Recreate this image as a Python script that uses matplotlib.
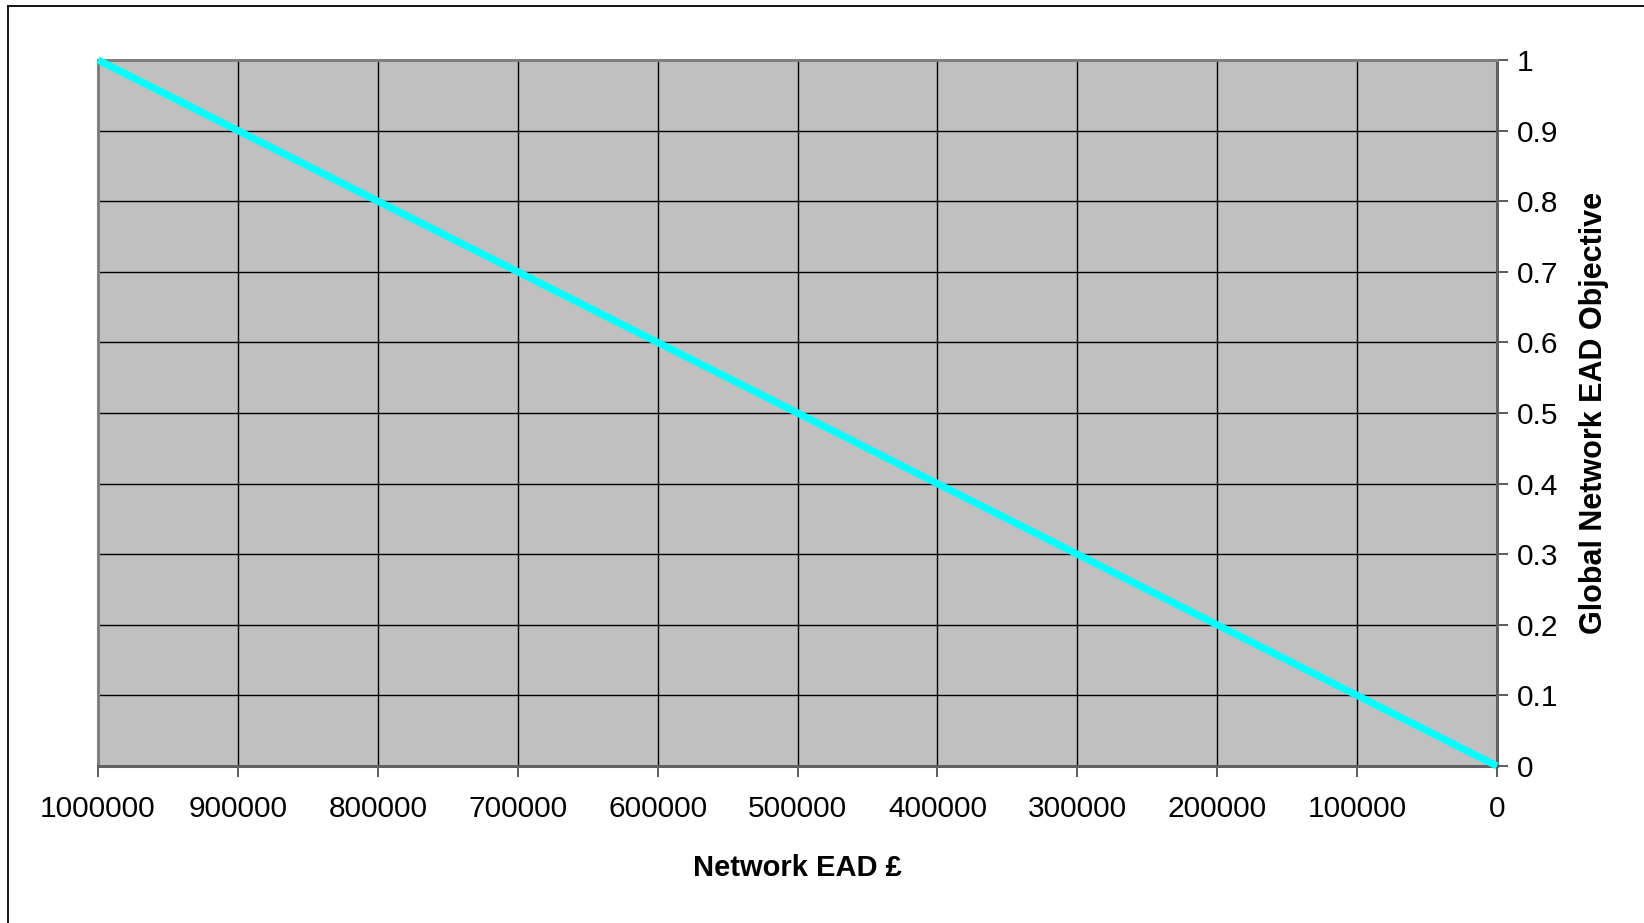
import matplotlib
matplotlib.use("Agg")
import matplotlib.pyplot as plt
from matplotlib.lines import Line2D

plt.rcParams['font.family'] = ['Liberation Sans', 'DejaVu Sans']

network_ead = [1000000, 0]
objective = [1.0, 0.0]
x_ticks = [1000000, 900000, 800000, 700000, 600000, 500000, 400000, 300000, 200000, 100000, 0]
y_ticks = [0, 0.1, 0.2, 0.3, 0.4, 0.5, 0.6, 0.7, 0.8, 0.9, 1]
y_tick_labels = ['0', '0.1', '0.2', '0.3', '0.4', '0.5', '0.6', '0.7', '0.8', '0.9', '1']

W, H = 1644, 923
fig = plt.figure(figsize=(W / 100, H / 100), dpi=100)
fig.patch.set_facecolor('white')

left, right, top, bottom = 98, 1497, 60, 766
ax = fig.add_axes([left / W, 1 - bottom / H, (right - left) / W, (bottom - top) / H])
ax.set_facecolor('#C0C0C0')

ax.plot(network_ead, objective, color='#00FFFF', lw=5.2, solid_capstyle='butt', zorder=3, clip_on=False)

ax.set_xlim(1000000, 0)
ax.set_ylim(0, 1)
ax.set_xticks(x_ticks)
ax.set_xticklabels([str(v) for v in x_ticks])
ax.set_yticks(y_ticks)
ax.set_yticklabels(y_tick_labels)
ax.yaxis.tick_right()
ax.yaxis.set_label_position('right')

ax.grid(True, color='black', lw=1.0, zorder=1)
ax.set_axisbelow(True)

for s in ['top', 'left']:
    ax.spines[s].set_color('#808080')
    ax.spines[s].set_linewidth(2.2)
for s in ['bottom', 'right']:
    ax.spines[s].set_color('#606060')
    ax.spines[s].set_linewidth(2.2)

ax.tick_params(axis='both', direction='out', length=8, width=1.2, color='#404040',
               labelsize=21.5, labelcolor='black')
ax.tick_params(axis='x', pad=13)
ax.tick_params(axis='y', pad=6)

ax.set_xlabel('Network EAD £', fontsize=21, fontweight='bold', labelpad=22)
ax.set_ylabel('Global Network EAD Objective', fontsize=22, fontweight='bold',
              rotation=90, labelpad=15)

# outer chart border (only left and top edges fall inside the image)
fig.add_artist(Line2D([8 / W, 8 / W], [0, 1 - 6 / H], color='black', lw=1.3,
                      transform=fig.transFigure))
fig.add_artist(Line2D([8 / W, 1], [1 - 6 / H, 1 - 6 / H], color='black', lw=1.3,
                      transform=fig.transFigure))

fig.savefig('out.png', dpi=100, facecolor='white')
